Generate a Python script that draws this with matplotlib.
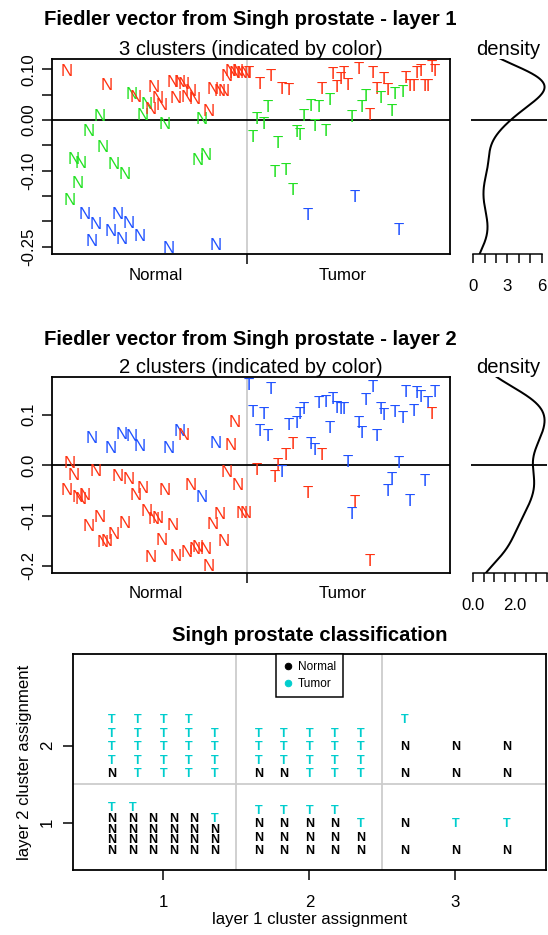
import numpy as np
import matplotlib.pyplot as plt
from matplotlib import transforms
from matplotlib.lines import Line2D

W, H, DPI = 548, 935, 72
plt.rcParams['font.family'] = ['Liberation Sans', 'DejaVu Sans']

# samples in order: Normal first, then Tumor
n_normal = 50
n_tumor = 52

# Fiedler vector, layer 1, and its 3-cluster assignment
fiedler1 = [
    0.098, -0.156, -0.074, -0.122, -0.083, -0.183, -0.019, -0.237, -0.204, 0.009,
    -0.051, 0.071, -0.217, -0.084, -0.183, -0.232, -0.105, -0.201, 0.053, 0.048,
    -0.227, 0.011, 0.033, 0.023, 0.067, 0.046, 0.032, -0.005, -0.250, 0.076,
    0.045, 0.076, 0.072, 0.048, 0.059, 0.043, -0.077, 0.004, -0.068, 0.020,
    0.063, -0.245, 0.059, 0.059, 0.089, 0.098, 0.095, 0.098, 0.095, 0.095,
    0.095, -0.032, 0.004, 0.072, -0.006, 0.027, 0.089, -0.100, -0.044, 0.063,
    -0.097, 0.061, -0.136, -0.022, -0.027, 0.009, -0.185, 0.030, -0.009, 0.027,
    0.063, -0.019, 0.041, 0.092, 0.067, 0.082, 0.095, 0.071, 0.007, -0.150,
    0.102, 0.027, 0.050, 0.011, 0.095, 0.063, 0.046, 0.082, 0.061, 0.020,
    0.053, -0.214, 0.058, 0.085, 0.069, 0.069, 0.095, 0.098, 0.069, 0.069,
    0.106, 0.098]
clust1 = [
    1, 2, 2, 2, 2, 3, 2, 3, 3, 2, 2, 1, 3, 2, 3, 3, 2, 3, 2, 1,
    3, 2, 2, 1, 1, 1, 1, 2, 3, 1, 1, 1, 1, 1, 1, 1, 2, 2, 2, 1,
    1, 3, 1, 1, 1, 1, 1, 1, 1, 1,
    1, 2, 2, 1, 2, 2, 1, 2, 2, 1, 2, 1, 2, 2, 2, 2, 3, 2, 2, 2,
    1, 2, 2, 1, 1, 1, 1, 1, 2, 3, 1, 2, 2, 1, 1, 1, 2, 1, 1, 2,
    2, 3, 2, 1, 1, 1, 1, 1, 1, 1, 1, 1]

# Fiedler vector, layer 2, and its 2-cluster assignment
fiedler2 = [
    -0.048, 0.007, -0.017, -0.062, -0.065, -0.058, -0.118, 0.055, -0.010, -0.100,
    -0.151, -0.148, 0.035, -0.135, -0.019, 0.063, -0.112, -0.025, 0.060, -0.057,
    0.040, -0.043, -0.090, -0.181, -0.105, -0.102, -0.146, -0.048, 0.036, -0.117,
    -0.178, 0.069, 0.061, -0.171, -0.038, -0.165, -0.161, -0.062, -0.165, -0.199,
    -0.115, 0.045, -0.095, -0.149, -0.012, 0.041, 0.088, -0.038, -0.092, -0.092,
    0.161, 0.108, -0.007, 0.070, 0.104, 0.059, 0.153, -0.021, 0.002, -0.011,
    0.022, 0.081, 0.044, 0.085, 0.104, 0.114, -0.054, 0.043, 0.031, 0.125,
    0.023, 0.128, 0.075, 0.134, 0.116, 0.114, 0.114, 0.009, -0.094, -0.071,
    0.085, 0.065, 0.131, -0.188, 0.157, 0.060, 0.113, 0.102, -0.049, -0.026,
    0.108, 0.006, 0.096, 0.148, -0.069, 0.110, 0.145, 0.138, -0.030, 0.125,
    0.104, 0.148]
clust2 = [
    1, 1, 1, 1, 1, 1, 1, 2, 1, 1, 1, 1, 2, 1, 1, 2, 1, 1, 2, 1,
    2, 1, 1, 1, 1, 1, 1, 1, 2, 1, 1, 2, 1, 1, 1, 1, 1, 2, 1, 1,
    1, 2, 1, 1, 1, 1, 1, 1, 1, 1,
    2, 2, 1, 2, 2, 2, 2, 1, 1, 2, 1, 2, 1, 2, 2, 2, 1, 2, 2, 2,
    1, 2, 2, 2, 2, 2, 2, 2, 2, 1, 2, 2, 2, 1, 2, 2, 2, 2, 2, 2,
    2, 2, 2, 2, 2, 2, 2, 2, 2, 2, 1, 2]

# classification table: counts per (layer 1 cluster, layer 2 cluster)
tab_layer1 = [1, 1, 2, 2, 3, 3]
tab_layer2 = [1, 2, 1, 2, 1, 2]
tab_normal = [23, 1, 14, 2, 4, 6]
tab_tumor = [3, 23, 5, 18, 2, 1]

RED, GREEN, BLUE = '#ff3212', '#22e122', '#2052ff'
CYAN = '#00cdcd'
GRID = '#cccccc'
FS = 16.8

fig = plt.figure(figsize=(W / DPI, H / DPI), dpi=DPI)


def axes_px(left, top, right, bottom):
    return fig.add_axes([left / W, 1 - bottom / H, (right - left) / W, (bottom - top) / H])


def ptext(x, y, s, **kw):
    fig.text(x / W, 1 - y / H, s, **kw)


def rlim(v):
    lo, hi = float(np.min(v)), float(np.max(v))
    d = 0.04 * (hi - lo)
    return lo - d, hi + d


def density(v):
    # gaussian kernel density, Silverman's rule-of-thumb bandwidth
    v = np.asarray(v, dtype=float)
    n = len(v)
    iqr = np.subtract(*np.percentile(v, [75, 25]))
    bw = 0.9 * min(v.std(ddof=1), iqr / 1.34) * n ** -0.2
    grid = np.linspace(v.min() - 3 * bw, v.max() + 3 * bw, 512)
    z = (grid[:, None] - v[None, :]) / bw
    dens = np.exp(-0.5 * z ** 2).sum(axis=1) / (n * bw * np.sqrt(2 * np.pi))
    return grid, dens


def box(ax, lw=1.8):
    for s in ax.spines.values():
        s.set_linewidth(lw)


def fiedler_panel(top, bottom, vals, clusters, palette, title, subtitle,
                  yticks, ylabels, dticks, dlabels, title_y, sub_y):
    ax = axes_px(51.7, top, 450, bottom)
    x = np.arange(1, len(vals) + 1)
    cls = ['N'] * n_normal + ['T'] * n_tumor
    glyph = transforms.offset_copy(ax.transData, fig=fig, y=-6.0, units='dots')
    for xi, yi, s, c in zip(x, vals, cls, clusters):
        ax.text(xi, yi, s, transform=glyph, color=palette[c], fontsize=FS,
                ha='center', va='baseline', zorder=3)
    ax.set_xlim(rlim(x))
    ax.set_ylim(rlim(vals))
    ax.axhline(0, color='black', lw=1.8, zorder=2)
    ax.axvline(n_normal + 0.5, color=GRID, lw=1.8, zorder=1)
    box(ax)
    ax.set_yticks(yticks)
    ax.set_yticklabels(ylabels, rotation=90, va='center', fontsize=FS)
    ax.tick_params(axis='y', length=10, width=1.5, pad=5)
    ax.set_xticks([n_normal + 0.5])
    ax.set_xticklabels([''])
    ax.tick_params(axis='x', which='major', length=10, width=1.5)
    ax.set_xticks([(n_normal + 1) / 2, n_normal + (n_tumor + 1) / 2], minor=True)
    ax.set_xticklabels(['Normal', 'Tumor'], minor=True, fontsize=FS)
    ax.tick_params(axis='x', which='minor', length=0, pad=13.5)

    ptext(250.8, title_y, title, ha='center', va='baseline', fontsize=20.2,
          fontweight='bold')
    ptext(250.8, sub_y, subtitle, ha='center', va='baseline', fontsize=20.2)
    ptext(508.5, sub_y, 'density', ha='center', va='baseline', fontsize=20.2)

    # density of the vector, drawn on its side
    dax = axes_px(470.5, top, 547.4, bottom)
    grid, dens = density(vals)
    dax.plot(dens, grid, color='black', lw=2)
    dax.set_ylim(ax.get_ylim())
    dax.set_xlim(rlim(dens))
    dax.axhline(0, color='black', lw=1.8)
    for side in ('top', 'right', 'left'):
        dax.spines[side].set_visible(False)
    dax.spines['bottom'].set_bounds(dticks[0], dticks[-1])
    dax.spines['bottom'].set_linewidth(1.5)
    dax.set_yticks([])
    dax.set_xticks(dticks)
    dax.set_xticklabels(dlabels, fontsize=FS)
    dax.tick_params(axis='x', length=9, width=1.5, pad=16)
    dax.patch.set_alpha(0)
    return ax


fiedler_panel(59, 254, fiedler1, clust1, {1: RED, 2: GREEN, 3: BLUE},
              'Fiedler vector from Singh prostate - layer 1',
              '3 clusters (indicated by color)',
              [0.10, 0.05, 0.0, -0.05, -0.10, -0.15, -0.20, -0.25],
              ['0.10', '', '0.00', '', '-0.10', '', '', '-0.25'],
              [0, 1, 2, 3, 4, 5, 6], ['0', '', '', '3', '', '', '6'],
              25, 55)

fiedler_panel(376.7, 572.7, fiedler2, clust2, {1: RED, 2: BLUE},
              'Fiedler vector from Singh prostate - layer 2',
              '2 clusters (indicated by color)',
              [0.1, 0.0, -0.1, -0.2], ['0.1', '0.0', '-0.1', '-0.2'],
              [0, 0.5, 1, 1.5, 2, 2.5, 3, 3.5],
              ['0.0', '', '', '', '2.0', '', '', ''],
              345, 373)

# classification table
ax3 = axes_px(72.7, 654, 546, 870)
glyph = transforms.offset_copy(ax3.transData, fig=fig, y=-4.5, units='dots')
for l1, l2, nn, nt in zip(tab_layer1, tab_layer2, tab_normal, tab_tumor):
    labels = ['N'] * nn + ['T'] * nt
    k = int(np.ceil(np.sqrt(len(labels))))
    off = np.linspace(-0.35, 0.35, k)
    for i, s in enumerate(labels):
        r, c = divmod(i, k)
        ax3.text(l1 + off[c], l2 + off[r], s, transform=glyph, fontsize=12.5,
                 fontweight='bold', color='black' if s == 'N' else CYAN,
                 ha='center', va='baseline', zorder=3)
ax3.set_xlim(rlim([0.5, 3.5]))
ax3.set_ylim(0.386, 3.19)
for v in (1.5, 2.5):
    ax3.axvline(v, color=GRID, lw=1.8, zorder=1)
ax3.axhline(1.5, color=GRID, lw=1.8, zorder=1)
box(ax3)
ax3.set_xticks([1, 2, 3])
ax3.set_xticklabels(['1', '2', '3'], fontsize=FS)
ax3.tick_params(axis='x', length=10, width=1.5, pad=15)
ax3.set_yticks([1, 2])
ax3.set_yticklabels(['1', '2'], rotation=90, va='center', fontsize=FS)
ax3.tick_params(axis='y', length=10, width=1.5, pad=8)
leg = ax3.legend(handles=[Line2D([], [], ls='', marker='o', color='black', markersize=6.5),
                          Line2D([], [], ls='', marker='o', color=CYAN, markersize=6.5)],
                 labels=['Normal', 'Tumor'], loc='upper center', bbox_to_anchor=(0.5, 1.0),
                 borderaxespad=0, fontsize=11.8, fancybox=False, framealpha=1,
                 edgecolor='black', handlelength=0.8, handletextpad=0.45,
                 borderpad=0.62, labelspacing=0.4)
leg.get_frame().set_linewidth(1.5)
ptext(309.3, 641, 'Singh prostate classification', ha='center', va='baseline',
      fontsize=20.2, fontweight='bold')
ptext(309.3, 924, 'layer 1 cluster assignment', ha='center', va='baseline', fontsize=FS)
ptext(25, 762, 'layer 2 cluster assignment', ha='center', va='center',
      rotation=90, fontsize=FS)

fig.savefig('out.png', dpi=DPI)
